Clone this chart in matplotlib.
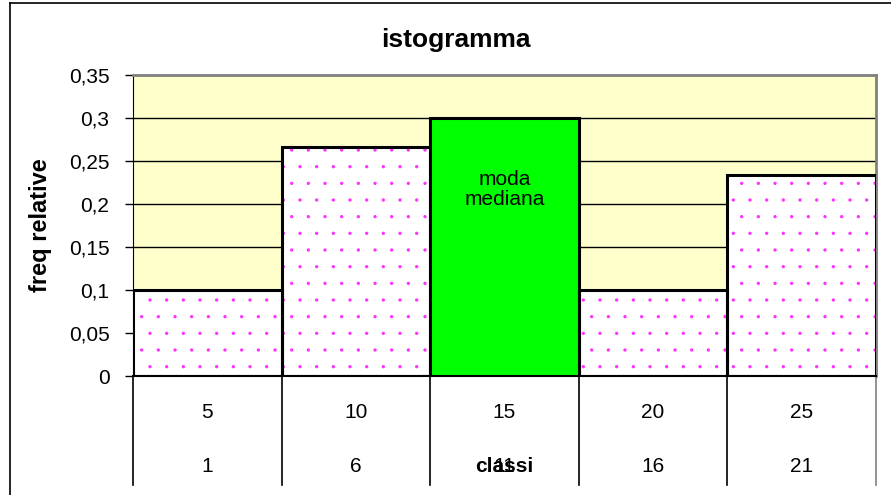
import matplotlib.pyplot as plt
import numpy as np

plt.rcParams["font.family"] = ["Liberation Sans", "DejaVu Sans"]
plt.rcParams["hatch.linewidth"] = 0.0

# Data
centers = ["5", "10", "15", "20", "25"]
lower_limits = ["1", "6", "11", "16", "21"]
freq_rel = [3 / 30, 8 / 30, 9 / 30, 3 / 30, 7 / 30]
mode_idx = 2
y_ticks = [0, 0.05, 0.1, 0.15, 0.2, 0.25, 0.3, 0.35]
y_labels = ["0", "0,05", "0,1", "0,15", "0,2", "0,25", "0,3", "0,35"]

FS = 15

fig = plt.figure(figsize=(8.91, 4.95), dpi=100)
ax = fig.add_axes([133 / 891, 1 - 376 / 495, (876 - 133) / 891, (376 - 75) / 495])
ax.set_facecolor("#FFFFCC")

x = np.arange(len(freq_rel))

# gridlines
for yv in y_ticks[1:-1]:
    ax.axhline(yv, color="black", lw=1, zorder=1)

# dotted fill (magenta dots), then black outline on top
for i, v in enumerate(freq_rel):
    if i == mode_idx:
        ax.bar(x[i], v, width=1, color="#00FF00", edgecolor="black", lw=2.2, zorder=3)
    else:
        ax.bar(x[i], v, width=1, color="white", edgecolor="#FF33FF", hatch=".",
               lw=0, zorder=2)
        ax.bar(x[i], v, width=1, fill=False, edgecolor="black", lw=2.2, zorder=3)

ax.text(x[mode_idx], 0.217, "moda\nmediana", ha="center", va="center",
        fontsize=FS, linespacing=1.05, zorder=4)

ax.set_xlim(-0.5, len(x) - 0.5)
ax.set_ylim(0, 0.35)
ax.set_yticks(y_ticks)
ax.set_yticklabels(y_labels, fontsize=FS)
ax.tick_params(axis="y", direction="out", length=6, width=1, pad=11)
ax.set_xticks([])
for s in ["top", "right"]:
    ax.spines[s].set_color("#808080")
    ax.spines[s].set_linewidth(2)
ax.spines["left"].set_color("black")
ax.spines["bottom"].set_color("black")
ax.spines["bottom"].set_linewidth(1.5)

fig.text(456 / 891, 1 - 47 / 495, "istogramma", fontsize=19, fontweight="bold",
         ha="center", va="baseline")
ax.set_ylabel("freq relative", fontsize=17, fontweight="bold", labelpad=12)

# table under the axis
trans = ax.get_xaxis_transform()
row1_y = -(412 - 376) / 301
row2_y = -(466 - 376) / 301
table_bottom = -(485 - 376) / 301
edges = np.arange(len(x) + 1) - 0.5
for j, e in enumerate(edges):
    col = "#808080" if j == len(edges) - 1 else "black"
    ax.plot([e, e], [0, table_bottom], transform=trans, color=col, lw=1.2,
            clip_on=False)
for i in range(len(x)):
    ax.text(x[i], row1_y, centers[i], transform=trans, ha="center",
            va="center", fontsize=FS)
    ax.text(x[i], row2_y, lower_limits[i], transform=trans, ha="center",
            va="center", fontsize=FS)
ax.text(x[mode_idx], row2_y, "classi", transform=trans, ha="center",
        va="center", fontsize=FS, fontweight="bold")

# outer chart border
fig.add_artist(plt.Line2D([10 / 891, 10 / 891], [0, 1 - 3 / 495], color="black", lw=1.2))
fig.add_artist(plt.Line2D([10 / 891, 1], [1 - 3 / 495, 1 - 3 / 495], color="black", lw=1.2))

fig.savefig("out.png", dpi=100)
